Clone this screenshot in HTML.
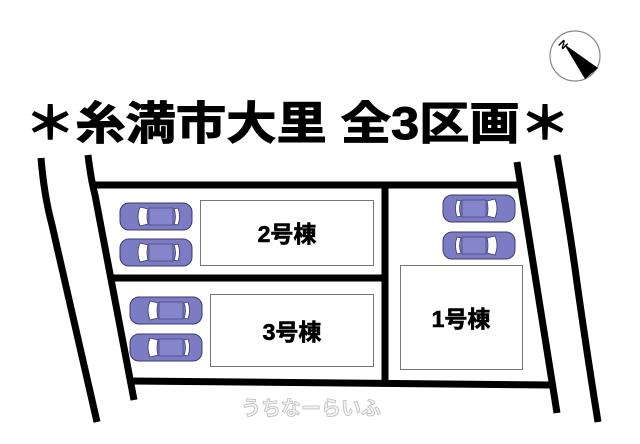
<!DOCTYPE html>
<html><head><meta charset="utf-8"><style>
html,body{margin:0;padding:0;background:#fff;}
svg{display:block}
</style></head><body>
<svg width="640" height="444" viewBox="0 0 640 444" xmlns="http://www.w3.org/2000/svg">
<defs>
<g id="car">
  <rect x="0" y="0" width="72" height="27" rx="9" fill="#7c7cc4" stroke="#3a3a6a" stroke-width="1"/>
  <path d="M20 4 Q16 13.5 20 23 L28 21 Q26 13.5 28 6 Z" fill="#fff" stroke="#3a3a6a" stroke-width="0.8"/>
  <path d="M54 6 Q57 13.5 54 21 L58 22 Q61 13.5 58 5 Z" fill="#fff" stroke="#3a3a6a" stroke-width="0.8"/>
  <rect x="29" y="5" width="24" height="17" fill="#8585cc" stroke="#3a3a6a" stroke-width="0.6"/>
</g>
</defs>
<circle cx="575" cy="56" r="25" fill="#fff" stroke="#888" stroke-width="1.2"/>
<polygon points="564,44 598,68 585,79" fill="#000"/>
<text x="560" y="47" font-family="Liberation Sans,sans-serif" font-size="11" font-weight="bold" transform="rotate(45 562 43)">N</text>
<text x="25" y="139" textLength="545" lengthAdjust="spacingAndGlyphs" font-family="'Liberation Sans','Noto Sans CJK JP',sans-serif" font-size="45" font-weight="bold" fill="#000" stroke="#000" stroke-width="1">＊糸満市大里 全3区画＊</text>
<g stroke="#000" stroke-width="7" fill="none" stroke-linecap="butt">
  <path d="M41 158 Q44 195 52 225 L97 422"/>
  <path d="M88 155 Q91 180 95 195 L134 400"/>
  <path d="M557 155 Q570 230 578 290 Q588 360 598 422"/>
  <path d="M517 162 L557 413"/>
  <line x1="92" y1="185" x2="519" y2="185"/>
  <line x1="110" y1="278" x2="385" y2="278"/>
  <line x1="130" y1="381" x2="552" y2="385"/>
  <line x1="385" y1="182" x2="385" y2="384"/>
</g>
<g fill="#fff" stroke="#777" stroke-width="1">
  <rect x="200.5" y="200.5" width="173" height="65"/>
  <rect x="210.5" y="294.5" width="163" height="72"/>
  <rect x="400.5" y="265.5" width="122" height="104"/>
</g>
<g font-family="'Liberation Sans','Noto Sans CJK JP',sans-serif" font-size="23" font-weight="bold" fill="#000" text-anchor="middle" stroke="#000" stroke-width="0.6">
  <text x="287" y="242">2号棟</text>
  <text x="292" y="340">3号棟</text>
  <text x="461" y="327">1号棟</text>
</g>
<use href="#car" x="120" y="203"/>
<use href="#car" x="120" y="239"/>
<use href="#car" x="130" y="297"/>
<use href="#car" x="130" y="334"/>
<use href="#car" transform="translate(515,195) scale(-1,1)"/>
<use href="#car" transform="translate(515,232) scale(-1,1)"/>
<text x="311" y="415" text-anchor="middle" font-family="'Liberation Sans','Noto Sans CJK JP',sans-serif" font-size="20" font-weight="bold" fill="#f4f4f4" stroke="#bdbdbd" stroke-width="0.8">うちなーらいふ</text>
</svg>
</body></html>
